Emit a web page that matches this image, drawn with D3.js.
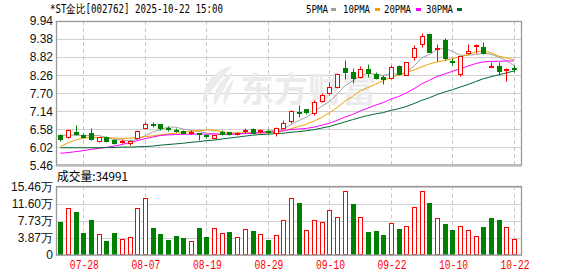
<!DOCTYPE html>
<html><head><meta charset="utf-8">
<script src="https://cdn.jsdelivr.net/npm/d3@7/dist/d3.min.js"></script>
<style>body{margin:0;background:#fff}svg{display:block}</style>
</head><body>
<svg id="chart" width="578" height="276"></svg>
<script>
// ---------- DATA ----------
const dates = ["07-23","07-24","07-25","07-28","07-29","07-30","07-31","08-01","08-04","08-05",
"08-06","08-07","08-08","08-11","08-12","08-13","08-14","08-15","08-18","08-19",
"08-20","08-21","08-22","08-25","08-26","08-27","08-28","08-29","09-01","09-02",
"09-03","09-04","09-05","09-08","09-09","09-10","09-11","09-12","09-15","09-16",
"09-17","09-18","09-19","09-22","09-23","09-24","09-25","09-26","09-29","09-30",
"10-09","10-10","10-13","10-14","10-15","10-16","10-17","10-20","10-21","10-22"];
const openP  = [6.41,6.33,6.49,6.41,6.46,6.23,6.33,6.25,6.19,6.16,6.30,6.62,6.74,6.74,6.62,6.57,6.53,6.49,6.46,6.40,
6.32,6.51,6.49,6.45,6.55,6.60,6.53,6.54,6.48,6.63,6.84,7.12,7.20,7.08,7.47,7.72,7.89,8.49,8.37,8.20,
8.45,8.29,8.21,8.16,8.54,8.27,8.83,9.22,9.54,9.07,9.35,8.69,8.29,8.94,9.19,9.12,8.50,8.55,8.42,8.48];
const highP  = [6.44,6.58,6.71,6.46,6.63,6.35,6.37,6.29,6.29,6.23,6.56,6.81,6.82,6.75,6.69,6.61,6.55,6.55,6.47,6.43,
6.42,6.57,6.51,6.51,6.62,6.62,6.60,6.58,6.64,6.87,7.18,7.33,7.21,7.49,7.72,8.06,8.32,8.74,8.47,8.53,
8.60,8.37,8.26,8.58,8.58,8.68,9.20,9.56,9.56,9.22,9.41,8.78,8.86,9.23,9.23,9.29,8.68,8.68,8.47,8.58];
const lowP   = [6.23,6.31,6.41,6.31,6.25,6.18,6.19,6.13,6.17,6.10,6.27,6.58,6.65,6.56,6.54,6.51,6.45,6.43,6.26,6.32,
6.31,6.41,6.41,6.41,6.48,6.46,6.48,6.48,6.37,6.58,6.77,6.97,7.07,7.03,7.44,7.65,7.87,8.14,8.01,8.16,
8.21,8.15,8.00,8.14,8.27,8.26,8.73,9.14,8.98,8.71,8.73,8.59,8.25,8.94,8.96,8.92,8.50,8.27,8.09,8.37];
const closeP = [6.27,6.55,6.44,6.35,6.29,6.33,6.23,6.17,6.21,6.21,6.52,6.76,6.72,6.61,6.60,6.55,6.47,6.51,6.43,6.38,
6.41,6.44,6.43,6.47,6.57,6.48,6.55,6.52,6.63,6.79,7.16,7.10,7.11,7.44,7.66,7.89,8.29,8.37,8.18,8.44,
8.32,8.16,8.13,8.51,8.29,8.66,9.09,9.46,8.99,9.11,8.79,8.67,8.84,9.00,9.21,8.96,8.55,8.39,8.44,8.46];
// volume in 万 (10,000 shares)
const volume = [7.52,10.5,9.78,5.04,7.9,4.74,3.24,5.04,3.54,3.99,10.5,12.8,6.09,4.74,3.39,4.29,3.84,3.16,6.09,4.06,
6.02,4.9,5.27,3.99,5.8,5.42,4.67,3.39,4.45,7.9,12.8,11.67,5.57,7.83,7.38,10.09,8.51,14.38,11.5,8.51,
5.19,5.42,4.51,7.16,5.87,6.48,10.77,14.38,11.67,8.28,7.0,5.64,6.48,5.57,4.22,6.32,8.35,7.9,6.32,3.4991];
const ma5  = [6.40,6.40,6.40,6.39,6.38,6.39,6.33,6.27,6.25,6.23,6.27,6.38,6.49,6.57,6.65,6.65,6.59,6.55,6.51,6.47,
6.44,6.43,6.42,6.43,6.46,6.48,6.50,6.52,6.55,6.59,6.73,6.85,6.96,7.12,7.30,7.44,7.67,7.93,8.08,8.23,
8.32,8.29,8.25,8.31,8.28,8.35,8.54,8.80,8.90,9.06,9.09,9.00,8.88,8.88,8.90,8.94,8.91,8.82,8.71,8.56];
const ma10 = [6.05,6.16,6.25,6.31,6.33,6.33,6.33,6.31,6.30,6.31,6.33,6.35,6.38,6.41,6.44,6.46,6.49,6.52,6.54,6.56,
6.55,6.51,6.48,6.47,6.47,6.46,6.47,6.47,6.49,6.53,6.60,6.67,6.74,6.84,6.95,7.09,7.26,7.45,7.60,7.77,
7.88,7.98,8.09,8.20,8.26,8.34,8.42,8.52,8.61,8.67,8.72,8.77,8.84,8.89,8.98,9.01,8.96,8.85,8.80,8.73];
const ma20 = [5.84,5.86,5.89,5.92,5.96,5.99,6.02,6.06,6.11,6.17,6.23,6.29,6.34,6.39,6.41,6.42,6.43,6.43,6.44,6.43,
6.44,6.43,6.43,6.44,6.45,6.46,6.48,6.49,6.51,6.54,6.58,6.59,6.61,6.65,6.71,6.77,6.86,6.96,7.04,7.15,
7.24,7.33,7.41,7.52,7.60,7.71,7.84,7.99,8.10,8.22,8.30,8.38,8.46,8.54,8.62,8.67,8.69,8.69,8.70,8.70];
const ma30 = [6.01,6.01,6.01,6.01,6.01,6.01,6.02,6.02,6.03,6.03,6.04,6.05,6.06,6.09,6.11,6.13,6.15,6.18,6.20,6.23,
6.25,6.28,6.31,6.34,6.37,6.40,6.42,6.43,6.45,6.46,6.49,6.51,6.54,6.57,6.62,6.67,6.74,6.81,6.88,6.95,
7.01,7.06,7.10,7.17,7.22,7.29,7.38,7.48,7.56,7.66,7.74,7.81,7.89,7.97,8.06,8.15,8.21,8.27,8.33,8.39];
const priceTicks = [9.94,9.38,8.82,8.26,7.70,7.14,6.58,6.02,5.46];
const volTicks = [0,3.87,7.73,11.60,15.46];
const volTickLabels = ["0","3.87万","7.73万","11.60万","15.46万"];
const dateTicks = ["07-28","08-07","08-19","08-29","09-10","09-22","10-10","10-22"];
const maNames = ["5PMA","10PMA","20PMA","30PMA"];
const titleText = "*ST金比[002762] 2025-10-22 15:00";
const volTitle = "成交量:34991";

// ---------- LAYOUT ----------
const L = 56, R = 522;
const mainTop = 21, mainBot = 165.5;
const volTop = 186.5, volBot = 255;
const RED = "#ff0000", GRN = "#008000";
const maColors = ["#a0a0a0","#f0a000","#ff00ff","#006633"];

const svg = d3.select("#chart");
const n = dates.length;
const x = d3.scaleLinear().domain([0, n - 1]).range([60.3, 514]);
const y = d3.scaleLinear().domain([5.46, 9.94]).range([mainBot, mainTop]);
const yv = d3.scaleLinear().domain([0, 15.46]).range([volBot, volTop]);
const cx = i => Math.round(x(i));
const tickIdx = dateTicks.map(d => dates.indexOf(d));

// ---------- grids ----------
const grid = svg.append("g");
grid.selectAll(".hg").data(priceTicks).join("line")
  .attr("x1", L).attr("x2", R).attr("y1", d => Math.round(y(d)) + 0.5).attr("y2", d => Math.round(y(d)) + 0.5)
  .attr("stroke", "#d0d0d0");
grid.selectAll(".vg").data(volTicks).join("line")
  .attr("x1", L).attr("x2", R).attr("y1", d => Math.round(yv(d)) + 0.5).attr("y2", d => Math.round(yv(d)) + 0.5)
  .attr("stroke", "#d0d0d0");
[[mainTop, mainBot], [volTop, volBot]].forEach(([t, b]) => {
  grid.selectAll(null).data(tickIdx).join("line")
    .attr("x1", i => cx(i) + 0.5).attr("x2", i => cx(i) + 0.5).attr("y1", t).attr("y2", b)
    .attr("stroke", "#c8c8c8").attr("stroke-dasharray", "4,3");
});

// ---------- watermark ----------
const wm = svg.append("g").attr("fill", "#ebebeb");
wm.append("path").attr("d", "M232,66 C214,70 202,84 203,104 C210,92 220,80 232,66 Z");
wm.append("path").attr("d", "M233,72 C220,78 212,92 214,106 C220,96 226,86 233,72 Z");
wm.append("path").attr("d", "M234,79 C226,86 222,96 224,106 C228,98 231,90 234,79 Z");
wm.append("text").attr("x", 240).attr("y", 102).text("东方财富")
  .attr("font-family", "'Noto Sans CJK SC'").attr("font-weight", "bold").attr("font-size", 34)
  .attr("textLength", 136).attr("lengthAdjust", "spacingAndGlyphs");

// ---------- MA lines ----------
[ma5, ma10, ma20, ma30].forEach((arr, k) => {
  svg.append("path").datum(arr)
    .attr("d", d3.line().x((d, i) => x(i)).y(d => y(d)))
    .attr("fill", "none").attr("stroke", maColors[k]).attr("stroke-width", 1);
});

// ---------- candles ----------
const cg = svg.append("g");
d3.range(n).forEach(i => {
  const o = openP[i], c = closeP[i], h = highP[i], l = lowP[i];
  const up = c >= o;
  const col = up ? RED : GRN;
  const xc = cx(i) + 0.5;
  const yTop = Math.round(y(Math.max(o, c))) + 0.5;
  let yBot = Math.round(y(Math.min(o, c))) + 0.5;
  if (yBot - yTop < 1) yBot = yTop + 1;
  const yh = Math.round(y(h)) + 0.5, yl = Math.round(y(l)) + 0.5;
  cg.append("line").attr("x1", xc).attr("x2", xc).attr("y1", yh).attr("y2", yTop).attr("stroke", col);
  cg.append("line").attr("x1", xc).attr("x2", xc).attr("y1", yBot).attr("y2", yl).attr("stroke", col);
  cg.append("rect").attr("x", cx(i) - 1.5).attr("width", 4)
    .attr("y", yTop).attr("height", yBot - yTop)
    .attr("fill", up ? "#fff" : GRN).attr("stroke", col);
});

// ---------- volume ----------
const vg = svg.append("g");
d3.range(n).forEach(i => {
  const up = i === 0 ? closeP[i] >= openP[i] : closeP[i] >= closeP[i - 1];
  const col = up ? RED : GRN;
  const t = Math.round(yv(volume[i])) + 0.5;
  vg.append("rect").attr("x", cx(i) - 1.5).attr("width", 4)
    .attr("y", t).attr("height", volBot - 0.5 - t)
    .attr("fill", up ? "#fff" : GRN).attr("stroke", col);
});

// ---------- frames ----------
svg.append("rect").attr("x", L + 0.5).attr("y", mainTop + 0.5).attr("width", R - L - 1).attr("height", mainBot - mainTop - 1)
  .attr("fill", "none").attr("stroke", "#999").attr("stroke-width", 1.3);
svg.append("rect").attr("x", L + 0.5).attr("y", volTop).attr("width", R - L - 1).attr("height", volBot - volTop)
  .attr("fill", "none").attr("stroke", "#999").attr("stroke-width", 1.3);

// ---------- axes ----------
const axY = svg.append("g").attr("transform", `translate(${L},0)`)
  .call(d3.axisLeft(y).tickValues(priceTicks).tickFormat(d3.format(".2f")).tickSize(0).tickPadding(3));
axY.select(".domain").remove();
axY.selectAll("text").attr("font-family", "'Liberation Sans', Arial, sans-serif").attr("font-size", 12).attr("fill", "#111");

const axV = svg.append("g").attr("transform", `translate(${L},0)`)
  .call(d3.axisLeft(yv).tickValues(volTicks).tickFormat((d, i) => volTickLabels[i]).tickSize(0).tickPadding(3));
axV.select(".domain").remove();
axV.selectAll("text").attr("font-family", "'Liberation Sans', Arial, sans-serif").attr("font-size", 12).attr("fill", "#111");

const axX = svg.append("g").attr("transform", `translate(0,${volBot})`)
  .call(d3.axisBottom(x).tickValues(tickIdx).tickFormat(i => dates[i]).tickSize(0).tickPadding(5));
axX.select(".domain").remove();
axX.selectAll("text").attr("font-family", "'Liberation Mono', monospace").attr("font-size", 12).attr("fill", RED)
  .attr("textLength", 29).attr("lengthAdjust", "spacingAndGlyphs")
  .attr("x", function(){ return 0.5; });

// ---------- title & legend ----------
svg.append("text").attr("x", 50).attr("y", 13).text(titleText)
  .attr("font-family", "'DejaVu Sans Mono', monospace").attr("font-size", 11.5).attr("fill", "#000")
  .attr("textLength", 173).attr("lengthAdjust", "spacingAndGlyphs");
const legX = [306, 343, 384, 426];
const legW = [22, 27, 27, 27];
const swX = [331, 375, 416, 457];
maNames.forEach((nm, k) => {
  svg.append("text").attr("x", legX[k]).attr("y", 13).text(nm)
    .attr("font-family", "'DejaVu Sans Mono', monospace").attr("font-size", 11).attr("fill", "#000")
    .attr("textLength", legW[k]).attr("lengthAdjust", "spacingAndGlyphs");
  svg.append("rect").attr("x", swX[k]).attr("y", 8).attr("width", 5).attr("height", 3).attr("fill", maColors[k]);
});
svg.append("text").attr("x", 57).attr("y", 181).text(volTitle)
  .attr("font-family", "'Noto Sans CJK SC', sans-serif").attr("font-size", 12).attr("fill", "#000")
  .attr("textLength", 71).attr("lengthAdjust", "spacingAndGlyphs");
</script>
</body></html>
